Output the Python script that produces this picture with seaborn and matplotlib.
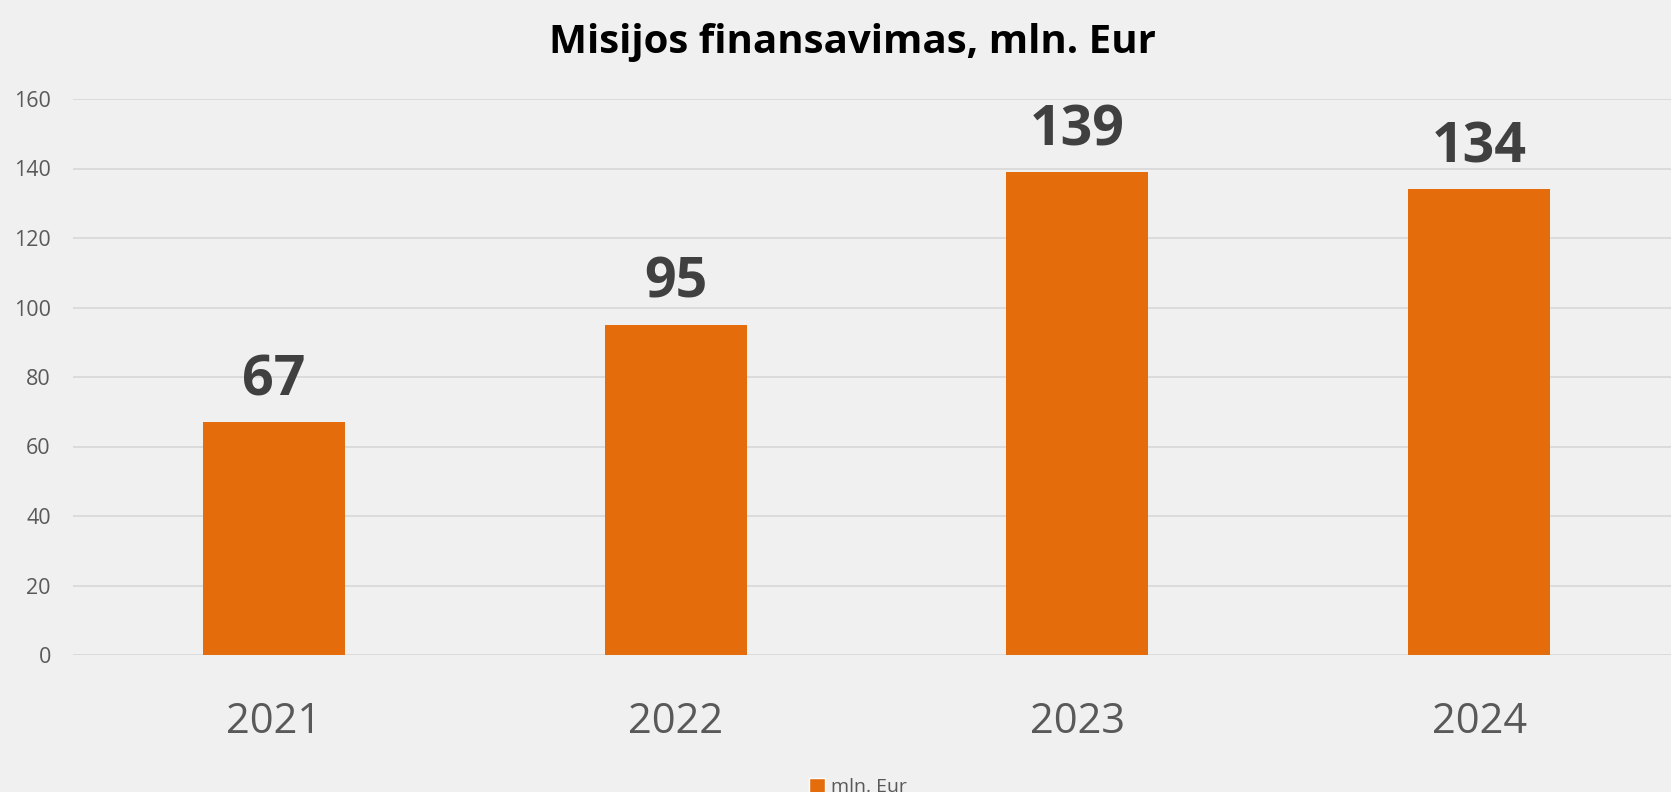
import matplotlib
matplotlib.use("Agg")
import matplotlib.pyplot as plt
import seaborn as sns
import pandas as pd
from matplotlib.patches import Patch

years = ["2021", "2022", "2023", "2024"]
values = [67, 95, 139, 134]
series_name = "mln. Eur"
title = "Misijos finansavimas, mln. Eur"

df = pd.DataFrame({"year": years, "value": values})

BG = "#f0f0f0"
BAR = "#e46c0a"
sns.set_theme(style="whitegrid")
plt.rcParams["font.family"] = ["Open Sans", "DejaVu Sans"]

fig = plt.figure(figsize=(16.71, 7.92), dpi=100, facecolor=BG)
ax = fig.add_axes([73/1671, 1-655/792, (1680-73)/1671, (655-99)/792])
ax.set_facecolor(BG)

sns.barplot(data=df, x="year", y="value", color=BAR, width=0.354, ax=ax,
            saturation=1, edgecolor="none", zorder=3)

ax.set_ylim(0, 160)
ax.set_xlim(-0.5, 3.5)
ax.set_yticks(range(0, 161, 20))
ax.grid(axis="y", color="#d9d9d9", linewidth=1.3, zorder=0)
ax.grid(axis="x", visible=False)
for s in ax.spines.values():
    s.set_visible(False)
ax.set_xlabel("")
ax.set_ylabel("")
ax.tick_params(axis="y", labelsize=15.5, labelcolor="#595959", length=0, pad=16)
ax.tick_params(axis="x", labelsize=30, labelcolor="#595959", length=0, pad=33)

for c in ax.containers:
    ax.bar_label(c, labels=[str(v) for v in values], padding=10, fontsize=40,
                 fontweight="bold", color="#404040")

fig.text(852/1671, 1-42/792, title, ha="center", va="center", fontsize=29,
         fontweight="bold", color="black")

fig.legend(handles=[Patch(facecolor=BAR, label=series_name)], loc="center",
           bbox_to_anchor=(858/1671, 1-787/792), frameon=False, fontsize=14,
           labelcolor="#595959", handlelength=0.8, handleheight=0.8,
           handletextpad=0.3)

fig.savefig("out.png", dpi=100, facecolor=BG)
